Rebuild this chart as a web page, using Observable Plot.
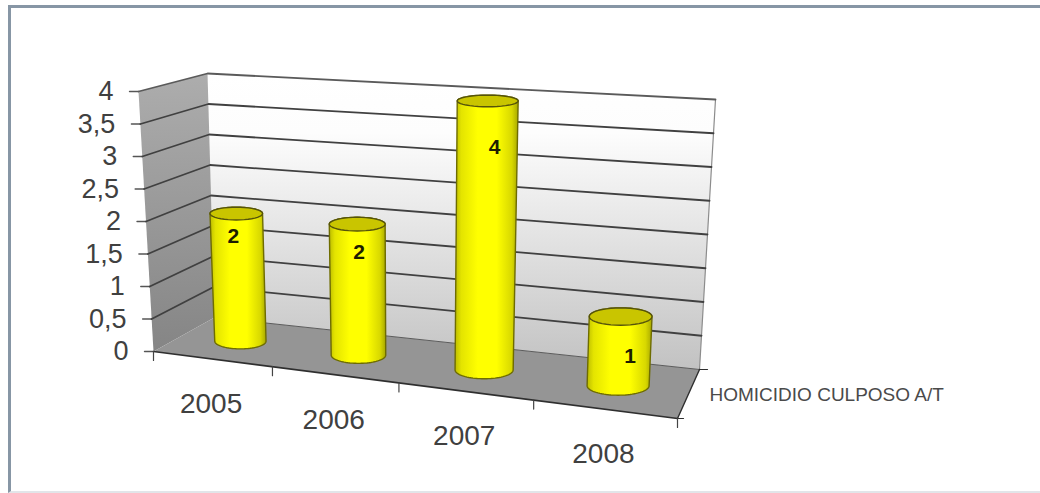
<!DOCTYPE html>
<html>
<head>
<meta charset="utf-8">
<script src="https://cdn.jsdelivr.net/npm/d3@7"></script>
<script src="https://cdn.jsdelivr.net/npm/@observablehq/plot@0.6"></script>
<style>
  html, body { margin: 0; padding: 0; background: #fff; }
  #chart { position: relative; width: 1040px; height: 493px; overflow: hidden; }
  #chart svg { display: block; background: #fff; }
  #frame {
    position: absolute; left: 8px; top: 5px; right: -6px; bottom: 0;
    border-left: 3px solid #8796a5; border-top: 3px solid #8796a5;
    border-bottom: 2px solid #e2e5e9; pointer-events: none;
  }
</style>
</head>
<body>
<div id="chart"><div id="frame"></div></div>
<script>
// Yearly counts
const years = ["2005", "2006", "2007", "2008"];
const counts = [2, 2, 4, 1];
const valueTicks = [0, 0.5, 1, 1.5, 2, 2.5, 3, 3.5, 4];
const valueTickLabels = ["0", "0,5", "1", "1,5", "2", "2,5", "3", "3,5", "4"];
const seriesName = "HOMICIDIO CULPOSO A/T";

// Floor corners of the 3D box on screen, and the vertical edge rising from each
const floorFrontLeft = [153, 351], floorFrontRight = [677, 418];
const floorBackLeft = [214, 317], floorBackRight = [699, 369];
const riseFrontLeft = [-15, -260], riseFrontRight = [11, -291];
const riseBackLeft = [-7, -244], riseBackRight = [16, -270];
const foreshortening = -0.135;

// Scales from data to box coordinates (0..1 along width and height)
const slot = Plot.scale({x: {type: "band", domain: years, range: [0, 1], padding: 0}});
const level = Plot.scale({y: {domain: [0, 4], range: [0, 1]}});

const mix = (a, b, t) => [a[0] + (b[0] - a[0]) * t, a[1] + (b[1] - a[1]) * t];

// u: along the category axis, value: data value, v: depth from front to back
function place(u, value, v) {
  const w = u / (foreshortening * u + 1 - foreshortening);
  const ground = mix(mix(floorFrontLeft, floorFrontRight, w), mix(floorBackLeft, floorBackRight, w), v);
  const rise = mix(mix(riseFrontLeft, riseFrontRight, w), mix(riseBackLeft, riseBackRight, w), v);
  const t = level.apply(value);
  return [ground[0] + rise[0] * t, ground[1] + rise[1] * t];
}

const px = (d) => d[0];
const py = (d) => d[1];
const outline = (points, options) => Plot.line(points, {x: px, y: py, ...options});
const segment = (a, b, options) => outline([a, b], options);

// Cylinder geometry: horizontal ellipses stacked along the projected vertical
const radiusU = 0.056, radiusV = 0.16, capThickness = 2, barDepth = 0.5;
function ellipseAt(u, value) {
  const [cx, cy] = place(u, value, barDepth);
  const rx = (place(u + radiusU, value, barDepth)[0] - place(u - radiusU, value, barDepth)[0]) / 2;
  const ry = (place(u, value, barDepth - radiusV)[1] - place(u, value, barDepth + radiusV)[1]) / 2 + capThickness;
  return {cx, cy, rx, ry};
}
const arc = ({cx, cy, rx, ry}, from, to) =>
  d3.range(0, 41).map((i) => {
    const a = from + (to - from) * i / 40;
    return [cx + rx * Math.cos(a), cy + ry * Math.sin(a)];
  });

function gradient(id, x2, y2, stops) {
  return `<linearGradient id="${id}" x1="0" y1="0" x2="${x2}" y2="${y2}">` +
    stops.map(([o, c]) => `<stop offset="${o}" stop-color="${c}"/>`).join("") +
    `</linearGradient>`;
}

const defs = () => {
  const node = document.createElementNS("http://www.w3.org/2000/svg", "defs");
  node.innerHTML =
    gradient("backWall", 0, 1, [[0, "#ffffff"], [0.2, "#fdfdfd"], [1, "#c2c2c2"]]) +
    gradient("sideWall", 0, 1, [[0, "#adadad"], [1, "#858585"]]) +
    gradient("barBody", 1, 0, [[0, "#bdbd00"], [0.1, "#e4e400"], [0.36, "#ffff00"], [0.66, "#ffff00"], [0.9, "#d8d800"], [1, "#a8a800"]]);
  return node;
};

const uCenter = (year) => slot.apply(year) + slot.bandwidth / 2;
const axisColor = "#2f2f2f", gridColor = "#404040";
const labelColor = "#404040";

const wallMarks = [
  outline([place(0, 4, 1), place(1, 4, 1), place(1, 0, 1), place(0, 0, 1)], {fill: "url(#backWall)"}),
  outline([place(0, 4, 0), place(0, 4, 1), place(0, 0, 1), place(0, 0, 0)], {fill: "url(#sideWall)"}),
  outline([place(0, 0, 0), place(1, 0, 0), place(1, 0, 1), place(0, 0, 1)], {fill: "#959595"}),
  segment(place(1, 4, 1), place(1, 0, 1), {stroke: "#8c8c8c", strokeWidth: 1.2}),
  segment(place(0, 0, 1), place(1, 0, 1), {stroke: "#5c5c5c", strokeWidth: 1}),
];

// Gridlines across the back wall and down the side wall, with ticks at the front edge
const gridMarks = valueTicks.flatMap((t) => {
  const front = place(0, t, 0), corner = place(0, t, 1), end = place(1, t, 1);
  const tick = segment([front[0] - 9, front[1]], front, {stroke: "#555", strokeWidth: 1.4});
  if (t === 0) return [tick];
  return [tick, outline([front, corner, end], {stroke: t === 4 ? "#5a5a5a" : gridColor, strokeWidth: 1.8})];
});

const axisMarks = [
  segment(place(0, 0, 0), place(1, 0, 0), {stroke: axisColor, strokeWidth: 1.6}),
  segment(place(1, 0, 0), place(1, 0, 1), {stroke: axisColor, strokeWidth: 1.4}),
  segment(place(1, 0, 1), [place(1, 0, 1)[0] + 8, place(1, 0, 1)[1]], {stroke: axisColor, strokeWidth: 1.2}),
  segment(place(1, 0, 0), [place(1, 0, 0)[0] + 6, place(1, 0, 0)[1]], {stroke: axisColor, strokeWidth: 1.2}),
  ...[...years.map((y) => slot.apply(y)), 1].map((u) => {
    const p = place(u, 0, 0);
    return segment(p, [p[0], p[1] + 9], {stroke: "#444", strokeWidth: 1.2});
  }),
];

// Each cylinder: body with rounded base, then the darker lid
const barMarks = years.flatMap((year, i) => {
  const u = uCenter(year);
  const base = ellipseAt(u, 0), lid = ellipseAt(u, counts[i]);
  const body = [...arc(base, 0, Math.PI), ...arc(lid, Math.PI, 2 * Math.PI)];
  body.push(body[0]);
  const cap = arc(lid, 0, 2 * Math.PI);
  return [
    outline(body, {fill: "url(#barBody)", stroke: "#6e6c00", strokeWidth: 1.4}),
    outline(cap, {fill: "#c9c500", stroke: "#55530a", strokeWidth: 1.4}),
  ];
});

const valueLabelNudge = [[-3, 23], [2, 28], [7, 46], [9.5, 40]];
const textMarks = [
  Plot.text(years, {
    x: (y) => place(uCenter(y), 0, 0)[0] - 1,
    y: (y) => place(uCenter(y), 0, 0)[1] + 45,
    text: (y) => y, fontSize: 28, fontFamily: "Liberation Sans", fill: labelColor
  }),
  Plot.text(valueTicks, {
    x: (t) => place(0, t, 0)[0] - 25,
    y: (t) => place(0, t, 0)[1],
    text: (t, i) => valueTickLabels[i], textAnchor: "end",
    fontSize: 27, fontFamily: "Liberation Sans", fill: labelColor
  }),
  Plot.text(counts, {
    x: (c, i) => ellipseAt(uCenter(years[i]), c).cx + valueLabelNudge[i][0],
    y: (c, i) => ellipseAt(uCenter(years[i]), c).cy + valueLabelNudge[i][1],
    text: (c) => String(c), fontSize: 21, fontWeight: "bold",
    fontFamily: "Liberation Sans", fill: "#1d1d00"
  }),
  Plot.text([seriesName], {
    x: () => place(1, 0, 1)[0] + 10,
    y: () => place(1, 0, 1)[1] + 25,
    text: (d) => d, textAnchor: "start", fontSize: 19,
    fontFamily: "Liberation Sans", fill: "#4a4a4a"
  }),
];

const chart = Plot.plot({
  width: 1040,
  height: 493,
  margin: 0,
  x: {type: "identity", axis: null},
  y: {type: "identity", axis: null},
  marks: [defs, ...wallMarks, ...gridMarks, ...axisMarks, ...barMarks, ...textMarks]
});
document.getElementById("chart").prepend(chart);
</script>
</body>
</html>
